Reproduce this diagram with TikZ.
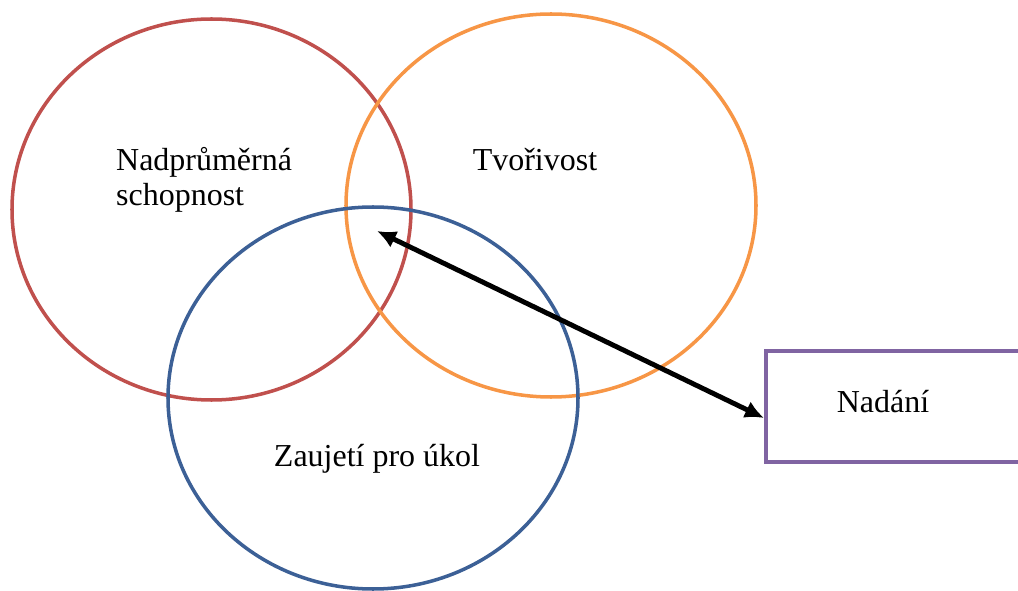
\documentclass[tikz,border=0pt]{standalone}
\usepackage{fontspec}
\setmainfont{Liberation Serif}
\usepackage{tikz}
\usetikzlibrary{arrows.meta}

\definecolor{kruhred}{HTML}{C0504D}
\definecolor{kruhorange}{HTML}{F79646}
\definecolor{kruhblue}{HTML}{3C6096}
\definecolor{boxpurple}{HTML}{8064A2}

\tikzset{
  kruh/.style={line width=2pt},
  popis/.style={font=\fontsize{18.2}{20}\selectfont},
  ramecek/.style={draw=boxpurple, line width=2.5pt, minimum width=5.6cm, minimum height=2.22cm, inner sep=0pt}
}

\begin{document}
\begin{tikzpicture}[x=0.02cm,y=-0.02cm]
        \useasboundingbox (0,0) rectangle (1018,591); % edit here for the page size

        \draw[kruh,kruhred] (211.5,209.5) ellipse [x radius=199.5, y radius=190.5];
        \draw[kruh,kruhorange] (551,205.5) ellipse [x radius=205, y radius=191.5];
        \draw[kruh,kruhblue] (373,398) ellipse [x radius=205, y radius=191];

        \node[popis,align=left,anchor=west] (schopnost) at (110,180) {Nadprůměrná\\schopnost};
        \node[popis] (tvorivost) at (535,160) {Tvořivost};
        \node[popis] (zaujeti) at (377,459) {Zaujetí pro úkol};

        \node[ramecek,anchor=west] (nadani) at (764,406.5) {};
        \node[popis] (nadanitext) at (883,402) {Nadání};

        \coordinate (prunik) at (377,231); % middle of the three circles
        \draw[{Latex[length=0.38cm,width=0.36cm]}-{Latex[length=0.38cm,width=0.36cm]}, line width=2.8pt] (prunik) -- ([yshift=-0.23cm]nadani.west);
    \end{tikzpicture}
\end{document}
